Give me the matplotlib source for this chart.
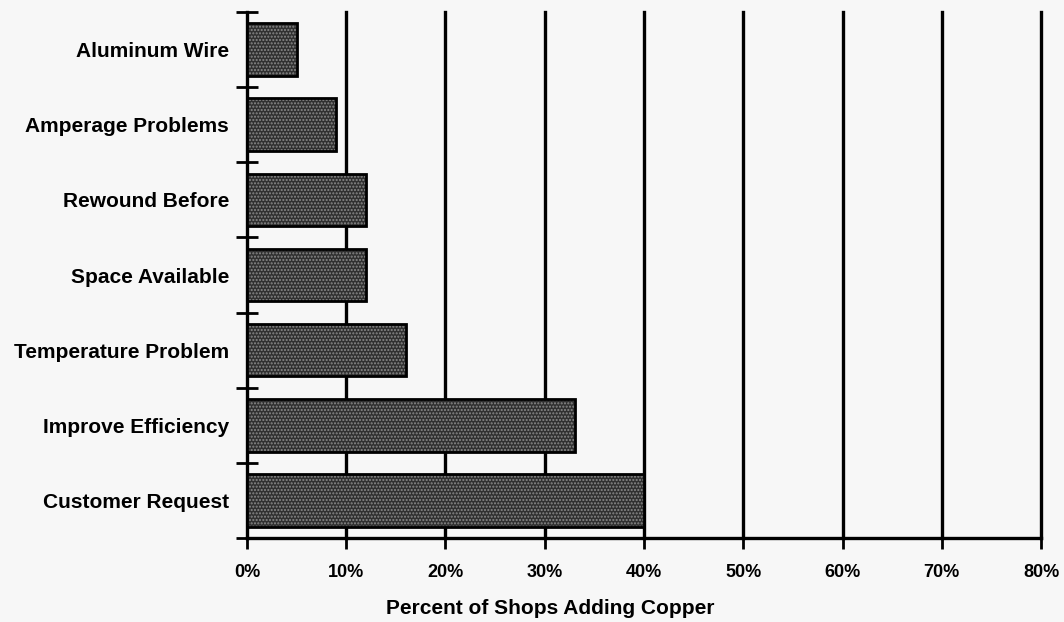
import matplotlib.pyplot as plt

plt.rcParams['font.family'] = ['Liberation Sans', 'DejaVu Sans']
plt.rcParams['font.weight'] = 'bold'

reasons = ['Aluminum Wire', 'Amperage Problems', 'Rewound Before', 'Space Available',
           'Temperature Problem', 'Improve Efficiency', 'Customer Request']
percent = [5, 9, 12, 12, 16, 33, 40]
xticks = [0, 10, 20, 30, 40, 50, 60, 70, 80]

fig = plt.figure(figsize=(10.64, 6.22), dpi=100)
fig.patch.set_facecolor('#f7f7f7')
ax = fig.add_axes([0.2321, 0.135, 0.7463, 0.8457])
ax.set_facecolor('#f7f7f7')

pos = list(range(len(reasons)))
# dotted dark fill, then a black outline on top
ax.barh(pos, percent, height=0.7, color='#303030', edgecolor='#8a8a8a',
        hatch='.....', linewidth=0, zorder=3)
ax.barh(pos, percent, height=0.7, fill=False, edgecolor='black',
        linewidth=2, zorder=4)

ax.set_xlim(0, 80)
ax.set_ylim(len(reasons) - 0.5, -0.5)

for x in xticks[1:]:
    ax.axvline(x, color='black', lw=2.4, zorder=2, clip_on=False)

ax.set_xticks(xticks)
ax.set_xticklabels([f'{x}%' for x in xticks], fontsize=13, fontweight='bold')
ax.set_yticks(pos)
ax.set_yticklabels(reasons, fontsize=15, fontweight='bold')
ax.tick_params(axis='y', which='major', length=0, pad=13)
ax.set_yticks([p - 0.5 for p in pos] + [len(reasons) - 0.5], minor=True)
ax.tick_params(axis='y', which='minor', direction='inout', length=16, width=2)
ax.tick_params(axis='x', direction='out', length=8, width=2, pad=11)

for side in ['top', 'right']:
    ax.spines[side].set_visible(False)
ax.spines['left'].set_linewidth(2.4)
ax.spines['bottom'].set_linewidth(2.4)

ax.set_xlabel('Percent of Shops Adding Copper', fontsize=15, fontweight='bold')
ax.xaxis.set_label_coords(0.382, -0.116)

plt.savefig('out.png', dpi=100, facecolor=fig.get_facecolor())
